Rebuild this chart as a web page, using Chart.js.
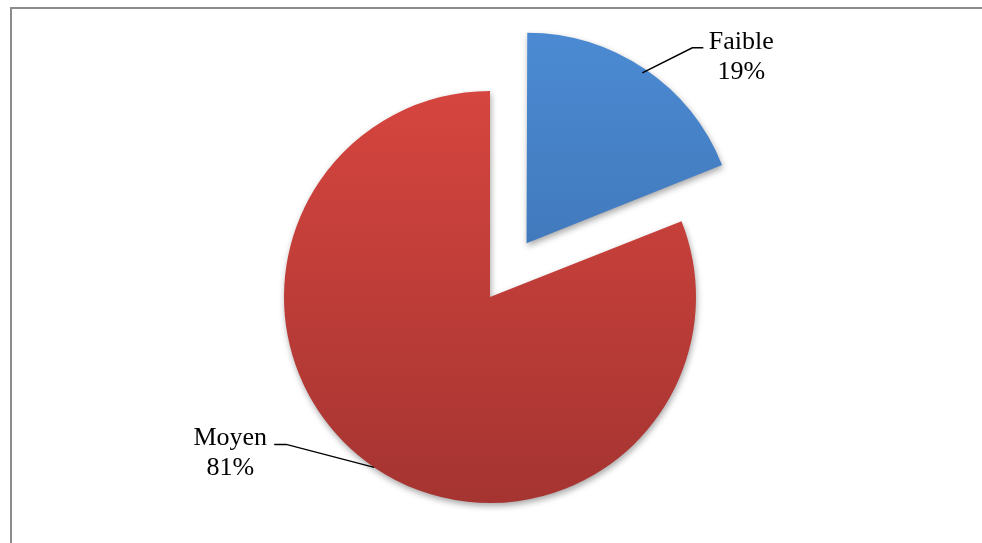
<!DOCTYPE html>
<html>
<head>
<meta charset="utf-8">
<title>Faible / Moyen</title>
<script src="https://cdn.jsdelivr.net/npm/chart.js"></script>
<style>
  html, body {
    margin: 0;
    padding: 0;
    background: #ffffff;
    overflow: hidden;
  }
  #wrap {
    position: relative;
    width: 982px;
    height: 543px;
  }
</style>
</head>
<body>
<div id="wrap">
  <canvas id="pie" width="982" height="543"></canvas>
</div>
<script>
  // Data
  const categories = ['Faible', 'Moyen'];
  const shares = [19, 81];
  // Chart.js v4 moves an arc by offset / 4, so 260 gives ~65px
  const explode = [260, 0];

  // top / bottom colours of each slice
  const topColors = ['#4b8ad2', '#d6453f'];
  const bottomColors = ['#3869a8', '#a53431'];

  const FONT = '26px "Liberation Serif", "Times New Roman", serif';

  // frame: only the top and left edges are visible in the reference
  const framePlugin = {
    id: 'frame',
    beforeDraw(chart) {
      const ctx = chart.ctx;
      ctx.save();
      ctx.strokeStyle = '#8c8c8c';
      ctx.lineWidth = 2;
      ctx.beginPath();
      ctx.moveTo(11, chart.height);
      ctx.lineTo(11, 8);
      ctx.lineTo(chart.width, 8);
      ctx.stroke();
      ctx.restore();
    }
  };

  // soft drop shadow under the slices
  const shadowPlugin = {
    id: 'sliceShadow',
    beforeDatasetsDraw(chart) {
      const ctx = chart.ctx;
      ctx.save();
      ctx.shadowColor = 'rgba(0,0,0,0.35)';
      ctx.shadowBlur = 6;
      ctx.shadowOffsetY = 3;
      ctx.shadowOffsetX = 1;
    },
    afterDatasetsDraw(chart) {
      chart.ctx.restore();
    }
  };

  // labels with leader lines, like the office chart callouts
  const calloutPlugin = {
    id: 'callouts',
    afterDatasetsDraw(chart) {
      const ctx = chart.ctx;
      const meta = chart.getDatasetMeta(0);
      const total = shares.reduce((a, b) => a + b, 0);
      meta.data.forEach((arc, i) => {
        const p = arc.getProps(['x', 'y', 'startAngle', 'endAngle', 'outerRadius'], true);
        const mid = (p.startAngle + p.endAngle) / 2;
        const shift = (arc.options.offset || 0) / 4;
        const ax = p.x + Math.cos(mid) * (p.outerRadius + shift);
        const ay = p.y + Math.sin(mid) * (p.outerRadius + shift);
        const side = Math.cos(mid) >= 0 ? 1 : -1;

        let elbow, end, textX, base1;
        if (side > 0) {
          elbow = [ax + 50, ay - 25];
          end = [ax + 61, ay - 25];
          textX = ax + 99;
          base1 = ay - 24;
        } else {
          elbow = [ax - 88, ay - 23];
          end = [ax - 100, ay - 23];
          textX = ax - 144;
          base1 = ay - 22;
        }

        ctx.save();
        ctx.strokeStyle = '#000000';
        ctx.lineWidth = 1.5;
        ctx.beginPath();
        ctx.moveTo(ax, ay);
        ctx.lineTo(elbow[0], elbow[1]);
        ctx.lineTo(end[0], end[1]);
        ctx.stroke();

        ctx.fillStyle = '#000000';
        ctx.font = FONT;
        ctx.textAlign = 'center';
        ctx.textBaseline = 'alphabetic';
        const pct = Math.round(shares[i] / total * 100) + '%';
        ctx.fillText(categories[i], textX, base1);
        ctx.fillText(pct, textX, base1 + 30);
        ctx.restore();
      });
    }
  };

  function sliceFill(context) {
    const chart = context.chart;
    const area = chart.chartArea;
    if (!area) return topColors[context.dataIndex];
    const cy = (area.top + area.bottom) / 2;
    const r = 206;
    const g = chart.ctx.createLinearGradient(0, cy - r, 0, cy + r);
    g.addColorStop(0, topColors[context.dataIndex]);
    g.addColorStop(1, bottomColors[context.dataIndex]);
    return g;
  }

  new Chart(document.getElementById('pie'), {
    type: 'pie',
    data: {
      labels: categories,
      datasets: [{
        data: shares,
        backgroundColor: sliceFill,
        borderWidth: 0,
        offset: explode,
        hoverOffset: 0
      }]
    },
    options: {
      responsive: false,
      animation: false,
      radius: 206,
      layout: {
        padding: { top: 51, bottom: 0, left: 0, right: 2 }
      },
      plugins: {
        legend: { display: false },
        tooltip: { enabled: false }
      },
      events: []
    },
    plugins: [framePlugin, shadowPlugin, calloutPlugin]
  });
</script>
</body>
</html>
